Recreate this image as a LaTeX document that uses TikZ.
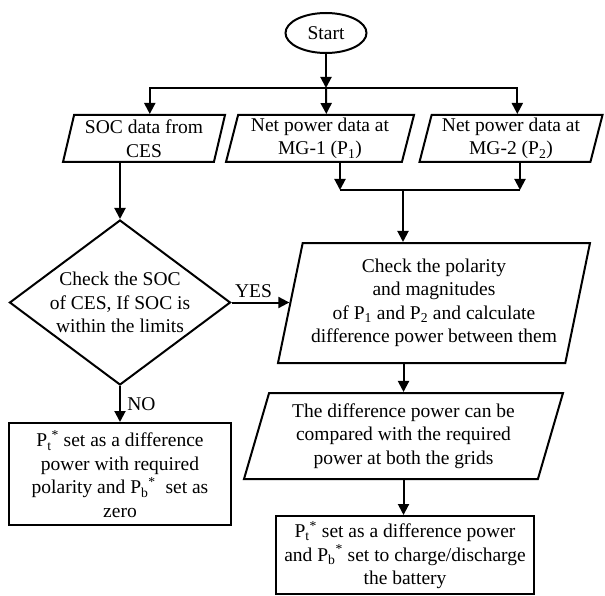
\documentclass[tikz,border=0pt]{standalone}
\usepackage{fontspec}
\setmainfont{Liberation Serif}
\usetikzlibrary{arrows.meta,positioning,shapes.geometric}
\newcommand{\Pst}[1]{P\textsubscript{#1}\textsuperscript{*}}

\begin{document}
\begin{tikzpicture}[
  x=1pt, y=-1pt,
  font=\fontsize{19.5}{23.5}\selectfont,
  term/.style={draw, ellipse, line width=2pt, minimum width=81pt,
               minimum height=40pt, inner sep=0pt},
  io/.style={draw, trapezium, trapezium left angle=75, trapezium right angle=105,
             trapezium stretches body, line width=2pt, align=center, inner sep=2pt},
  dec/.style={draw, diamond, aspect=1.34, line width=2pt, align=center,
              inner sep=-3pt, minimum width=221pt, minimum height=165pt},
  proc/.style={draw, rectangle, line width=2pt, align=center, inner sep=2pt},
  arr/.style={-{Triangle[length=11pt,width=11pt]}, line width=2pt}
]
\useasboundingbox (0,0) rectangle (605,596);

\node[term] (start) at (326,33) {Start};
\node[io, minimum width=162pt, minimum height=47pt] (soc) at (144,138.5) {SOC data from\\CES};
\node[io, minimum width=188pt, minimum height=47pt] (mg1) at (320,138.5) {Net power data at\\MG-1 (P\textsubscript{1})};
\node[io, minimum width=183pt, minimum height=47pt] (mg2) at (511,138.5) {Net power data at\\MG-2 (P\textsubscript{2})};

\node[dec] (chk) at (120,302.5) {Check the SOC\\of CES, If SOC is\\within the limits};
\node[io, minimum width=312pt, minimum height=120pt] (pol) at (434,303)
  {Check the polarity\\and magnitudes\\of P\textsubscript{1} and P\textsubscript{2} and calculate\\difference power between them};

\node[proc, minimum width=222pt, minimum height=102pt] (zero) at (120,474)
  {\Pst{t} set as a difference\\power with required\\polarity and \Pst{b}\ \ set as\\zero};
\node[io, trapezium left angle=70, trapezium right angle=110,
      minimum width=319pt, minimum height=86pt] (diff) at (403.5,436)
  {The difference power can be\\compared with the required\\power at both the grids};
\node[proc, minimum width=258pt, minimum height=78pt] (fin) at (405,555)
  {\Pst{t} set as a difference power\\and \Pst{b} set to charge/discharge\\the battery};

% distribution and merge points
\coordinate (bus) at (326,88);
\coordinate (m1) at (340,190);
\coordinate (m2) at (520,190);
\coordinate (join) at (403,190);

\draw[arr] (start) -- (bus);
\draw[arr] (bus) -| (soc.top side);
\draw[arr] (bus) -- (mg1.top side);
\draw[arr] (bus) -| (mg2.top side);

\draw[arr] (soc.south -| chk.north) -- (chk.north);
\draw[arr] (mg1.south -| m1) -- (m1);
\draw[arr] (mg2.south -| m2) -- (m2);
\draw[line width=2pt] (m1) -- (m2);
\draw[arr] (join) -- (join |- pol.north);

\draw[arr] (chk.east) -- node[above, pos=0.38]{YES} (chk.east -| pol.left side);
\draw[arr] (chk.south) -- node[right, xshift=3pt]{NO} (zero);
\draw[arr] (pol.south -| diff.north) -- (diff.north);
\draw[arr] (diff.south) -- (diff.south |- fin.north);
\end{tikzpicture}
\end{document}
